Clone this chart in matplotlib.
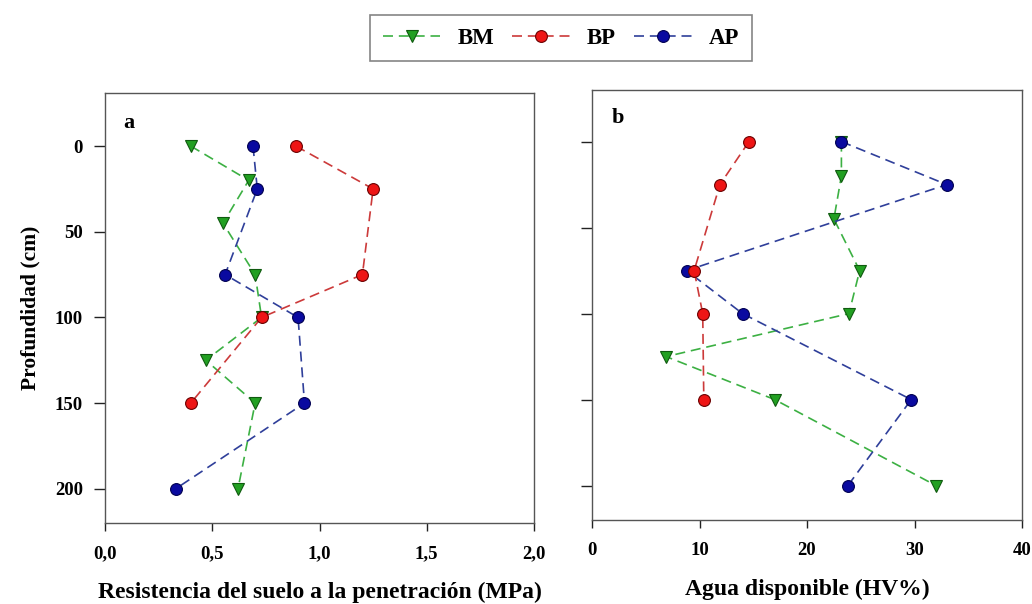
import matplotlib
matplotlib.use("Agg")
import matplotlib.pyplot as plt
from matplotlib.lines import Line2D

plt.rcParams['font.family'] = ['Liberation Serif', 'DejaVu Serif']
plt.rcParams['font.weight'] = 'bold'

# ---- data ----
depth_bm = [0, 20, 45, 75, 100, 125, 150, 200]
depth_bp = [0, 25, 75, 100, 150]
depth_ap = [0, 25, 75, 100, 150, 200]

# panel a: resistencia a la penetración (MPa)
res_bm = [0.40, 0.67, 0.55, 0.70, 0.73, 0.47, 0.70, 0.62]
res_bp = [0.89, 1.25, 1.20, 0.73, 0.40]
res_ap = [0.69, 0.71, 0.56, 0.90, 0.93, 0.33]
# panel b: agua disponible (HV%)
agua_bm = [23.2, 23.2, 22.5, 24.9, 23.9, 6.9, 17.0, 32.0]
agua_bp = [14.6, 11.9, 9.5, 10.3, 10.4]
agua_ap = [23.2, 33.0, 8.8, 14.0, 29.7, 23.8]

series_names = ['BM', 'BP', 'AP']
yticks = [0, 50, 100, 150, 200]
xticks_a = [0.0, 0.5, 1.0, 1.5, 2.0]
xticklabels_a = ['0,0', '0,5', '1,0', '1,5', '2,0']
xticks_b = [0, 10, 20, 30, 40]

# ---- styles ----
sty = {
    'BM': dict(color='#3cb043', marker='v', mfc='#22a022', mec='#0f5a0f', z=3),
    'BP': dict(color='#cc3a3a', marker='o', mfc='#ee1515', mec='#6a0000', z=5),
    'AP': dict(color='#2f3f9a', marker='o', mfc='#0a0aa0', mec='#000050', z=4),
}
dash = (0, (6, 3.5))
MS = 8.5

W, H = 1032, 604
fig = plt.figure(figsize=(W / 100, H / 100), dpi=100)
ax_a = fig.add_axes([105 / W, (H - 523) / H, 429 / W, 430 / H])
ax_b = fig.add_axes([592 / W, (H - 520) / H, 430 / W, 430 / H])

def draw(ax, data):
    for name, (x, y) in zip(series_names, data):
        s = sty[name]
        ax.plot(x, y, linestyle=dash, color=s['color'], lw=1.2,
                marker=s['marker'], ms=MS, mfc=s['mfc'], mec=s['mec'],
                mew=0.8, zorder=s['z'])

draw(ax_a, [(res_bm, depth_bm), (res_bp, depth_bp), (res_ap, depth_ap)])
draw(ax_b, [(agua_bm, depth_bm), (agua_bp, depth_bp), (agua_ap, depth_ap)])

for ax in (ax_a, ax_b):
    ax.set_ylim(220, -31)
    ax.set_yticks(yticks)
    for sp in ax.spines.values():
        sp.set_color('#555555')
        sp.set_linewidth(1.0)
    ax.tick_params(axis='both', which='both', direction='out', top=False,
                   right=False, colors='#222222', labelsize=13.5)
    ax.tick_params(axis='x', length=6, pad=10, width=1)
    ax.tick_params(axis='y', length=8, pad=8, width=1)

ax_a.set_xlim(0, 2)
ax_a.set_xticks(xticks_a)
ax_a.set_xticklabels(xticklabels_a)
ax_a.set_ylabel('Profundidad (cm)', fontsize=15.5, fontweight='bold', labelpad=10)
ax_a.set_xlabel('Resistencia del suelo a la penetración (MPa)', fontsize=17,
                fontweight='bold', labelpad=14)

ax_b.set_ylim(220, -30)
ax_b.set_xlim(0, 40)
ax_b.set_xticks(xticks_b)
ax_b.set_yticklabels([])
ax_b.set_xlabel('Agua disponible (HV%)', fontsize=17, fontweight='bold',
                labelpad=14)

for lab in ax_a.get_xticklabels() + ax_a.get_yticklabels() + ax_b.get_xticklabels():
    lab.set_fontweight('bold')
    lab.set_color('black')

ax_a.text(0.055, 0.93, 'a', transform=ax_a.transAxes, fontsize=16,
          fontweight='bold', va='center', ha='center')
ax_b.text(0.06, 0.935, 'b', transform=ax_b.transAxes, fontsize=16,
          fontweight='bold', va='center', ha='center')

handles = [Line2D([], [], linestyle=dash, color=sty[n]['color'], lw=1.2,
                  marker=sty[n]['marker'], ms=MS, mfc=sty[n]['mfc'],
                  mec=sty[n]['mec'], mew=0.8) for n in series_names]
leg = fig.legend(handles, series_names, loc='center',
                 bbox_to_anchor=(561 / W, 1 - 38 / H), ncol=3, frameon=True,
                 fancybox=False, edgecolor='#666666',
                 handlelength=2.5, columnspacing=0.8, handletextpad=0.75,
                 borderpad=0.55, prop={'weight': 'bold', 'size': 16.5})
leg.get_frame().set_linewidth(1.2)

fig.savefig('out.png', dpi=100)
